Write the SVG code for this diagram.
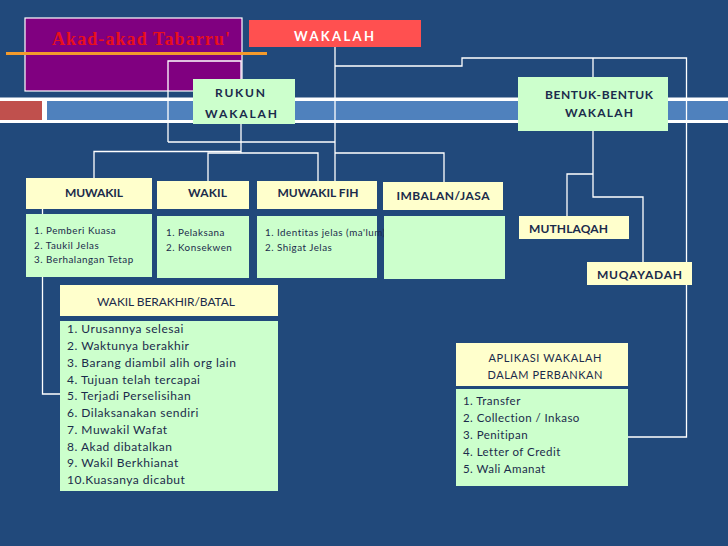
<svg xmlns="http://www.w3.org/2000/svg" width="728" height="546" viewBox="0 0 728 546">
<style>
.hd{fill:#ffffcc}
.ls{fill:#ccffcc}
.bt{font-family:Lato,"Open Sans",sans-serif;font-weight:bold;fill:#1b2b4b;font-size:12px}
.nt{font-family:Lato,"Open Sans",sans-serif;fill:#1b2b4b}
.sm{font-size:9.8px;letter-spacing:0.5px}
.md{font-size:12px;letter-spacing:0.5px}
.ap{font-size:11.5px;letter-spacing:0.45px}
.cn{fill:none;stroke:#ffffff;stroke-width:1.3}
</style>
<rect width="728" height="546" fill="#21497b"/>
<!-- band -->
<rect x="0" y="97.5" width="728" height="25.5" fill="#ffffff"/>
<rect x="0" y="101" width="42" height="19" fill="#c0504d"/>
<rect x="47" y="101" width="681" height="19" fill="#4f81bd"/>
<g id="title">
<rect x="25" y="18" width="217" height="73" fill="#800080" stroke="#ffffff" stroke-width="1.2"/>
<text x="52" y="45" font-family="'Liberation Serif',serif" font-weight="bold" font-size="18" fill="#e8101c" textLength="178" lengthAdjust="spacing">Akad-akad Tabarru'</text>
</g>
<line x1="6" y1="53.5" x2="267" y2="53.5" stroke="#f39a2c" stroke-width="3"/>
<g id="connectors" class="cn">
<path d="M168,142 V61 H241 V153"/>
<path d="M168,142 H335"/>
<path d="M94,180 V151.5 H241"/>
<path d="M208,181 V153 H318 V181"/>
<path d="M335,47 V181"/>
<path d="M335,153 H444 V182"/>
<path d="M335,66 H462 V58 H686.5 V437 H628"/>
<path d="M593,58 V77"/>
<path d="M593,131 V197 H643 V262"/>
<path d="M593,174 H567 V216"/>
<path d="M42.5,180 V394 H60"/>
</g>
<g id="wakalah">
<rect x="249" y="20" width="172" height="27" fill="#ff5050"/>
<text x="334" y="41" text-anchor="middle" font-family="Lato,'Open Sans',sans-serif" font-weight="bold" font-size="13" fill="#ffffff" textLength="80" lengthAdjust="spacing">WAKALAH</text>
</g>
<g id="rukun">
<rect x="193" y="79" width="102" height="45" fill="#ccffcc"/>
<text class="bt" x="240" y="97" text-anchor="middle" font-size="13" textLength="50" lengthAdjust="spacing">RUKUN</text>
<text class="bt" x="241" y="118" text-anchor="middle" font-size="13" textLength="72" lengthAdjust="spacing">WAKALAH</text>
</g>
<g id="bentuk">
<rect x="518" y="77" width="150" height="54" fill="#ccffcc"/>
<text class="bt" x="599" y="99" text-anchor="middle" textLength="108" lengthAdjust="spacing">BENTUK-BENTUK</text>
<text class="bt" x="599" y="117" text-anchor="middle" textLength="68" lengthAdjust="spacing">WAKALAH</text>
</g>
<g id="muwakil">
<rect class="hd" x="26" y="178" width="126" height="31"/>
<text class="bt" x="94" y="197" text-anchor="middle" textLength="58" lengthAdjust="spacing">MUWAKIL</text>
<rect class="ls" x="26" y="214" width="126" height="63"/>
<text class="nt sm" x="34" y="234">1. Pemberi Kuasa</text>
<text class="nt sm" x="34" y="249">2. Taukil Jelas</text>
<text class="nt sm" x="34" y="263">3. Berhalangan Tetap</text>
</g>
<g id="wakil">
<rect class="hd" x="157" y="181" width="92" height="28"/>
<text class="bt" x="207.5" y="197" text-anchor="middle" textLength="39" lengthAdjust="spacing">WAKIL</text>
<rect class="ls" x="157" y="216" width="92" height="62"/>
<text class="nt sm" x="166" y="236">1. Pelaksana</text>
<text class="nt sm" x="166" y="251">2. Konsekwen</text>
</g>
<g id="muwakil-fih">
<rect class="hd" x="257" y="181" width="120" height="28"/>
<text class="bt" x="318" y="197" text-anchor="middle" textLength="81" lengthAdjust="spacing">MUWAKIL FIH</text>
<rect class="ls" x="257" y="216" width="120" height="62"/>
<text class="nt sm" x="265" y="236">1. Identitas jelas (ma'lum)</text>
<text class="nt sm" x="265" y="251">2. Shigat Jelas</text>
</g>
<g id="imbalan">
<rect class="hd" x="383" y="182" width="120" height="28"/>
<text class="bt" x="443" y="200" text-anchor="middle" textLength="93" lengthAdjust="spacing">IMBALAN/JASA</text>
<rect class="ls" x="384" y="216" width="121" height="63"/>
</g>
<g id="muthlaqah">
<rect class="hd" x="519" y="216" width="110" height="23"/>
<text class="bt" x="529" y="233" textLength="79" lengthAdjust="spacing">MUTHLAQAH</text>
</g>
<g id="muqayadah">
<rect class="hd" x="587" y="262" width="105" height="23"/>
<text class="bt" x="597" y="279" textLength="85" lengthAdjust="spacing">MUQAYADAH</text>
</g>
<g id="wakil-berakhir">
<rect class="hd" x="60" y="285" width="218" height="31"/>
<text class="nt" x="166" y="306" text-anchor="middle" font-size="12" textLength="138" lengthAdjust="spacing">WAKIL BERAKHIR/BATAL</text>
<rect class="ls" x="60" y="321" width="218" height="170"/>
<text class="nt md" x="67" y="333">1. Urusannya selesai</text>
<text class="nt md" x="67" y="350">2. Waktunya berakhir</text>
<text class="nt md" x="67" y="367">3. Barang diambil alih org lain</text>
<text class="nt md" x="67" y="383.5">4. Tujuan telah tercapai</text>
<text class="nt md" x="67" y="400">5. Terjadi Perselisihan</text>
<text class="nt md" x="67" y="417">6. Dilaksanakan sendiri</text>
<text class="nt md" x="67" y="434">7. Muwakil Wafat</text>
<text class="nt md" x="67" y="450.5">8. Akad dibatalkan</text>
<text class="nt md" x="67" y="467">9. Wakil Berkhianat</text>
<text class="nt md" x="67" y="484">10.Kuasanya dicabut</text>
</g>
<g id="aplikasi">
<rect class="hd" x="456" y="343" width="172" height="43"/>
<text class="nt" x="545" y="362" text-anchor="middle" font-size="11" textLength="113" lengthAdjust="spacing">APLIKASI WAKALAH</text>
<text class="nt" x="545" y="379" text-anchor="middle" font-size="11" textLength="115" lengthAdjust="spacing">DALAM PERBANKAN</text>
<rect class="ls" x="456" y="389" width="172" height="97"/>
<text class="nt ap" x="463" y="405">1. Transfer</text>
<text class="nt ap" x="463" y="422">2. Collection / Inkaso</text>
<text class="nt ap" x="463" y="439">3. Penitipan</text>
<text class="nt ap" x="463" y="456">4. Letter of Credit</text>
<text class="nt ap" x="463" y="473">5. Wali Amanat</text>
</g>
</svg>
